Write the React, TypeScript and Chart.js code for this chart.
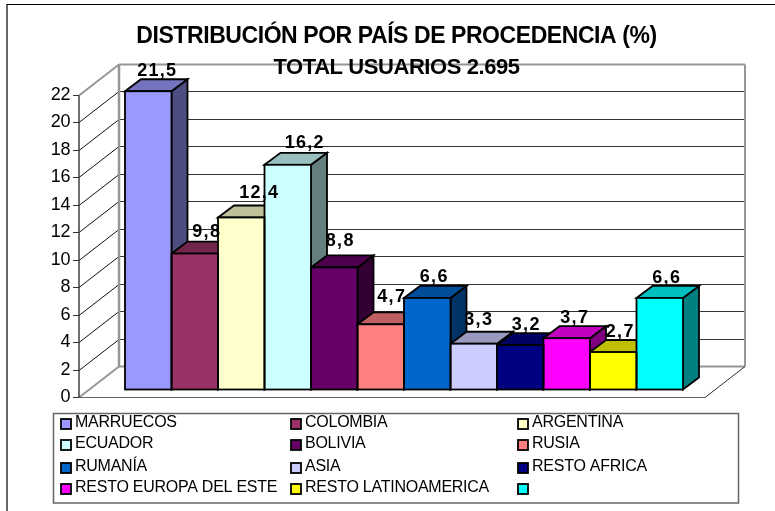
import React, { useEffect, useRef } from "react";
import { Chart, registerables } from "chart.js";

Chart.register(...registerables);

const categories = [
  "MARRUECOS", "COLOMBIA", "ARGENTINA", "ECUADOR", "BOLIVIA", "RUSIA",
  "RUMANÍA", "ASIA", "RESTO AFRICA", "RESTO EUROPA DEL ESTE", "RESTO LATINOAMERICA", "",
];
const values = [21.5, 9.8, 12.4, 16.2, 8.8, 4.7, 6.6, 3.3, 3.2, 3.7, 2.7, 6.6];
const colors = [
  "#9999FF", "#993366", "#FFFFCC", "#CCFFFF", "#660066", "#FF8080",
  "#0066CC", "#CCCCFF", "#000080", "#FF00FF", "#FFFF00", "#00FFFF",
];
const titleText = "DISTRIBUCIÓN POR PAÍS DE PROCEDENCIA (%)";
const subtitleText = "TOTAL USUARIOS 2.695";

// Layout constants (not data)
const DEPTH_X = 16, DEPTH_Y = 12;
const WALL_DX = 40, WALL_DY = 31;
const AXIS_X = 79, FLOOR_RIGHT = 705;
const labelNudgeX = [9, 12, 18, 17, 6, 11, 7, 5, 6, 8, 7, 7];
const labelLift = [15, 17, 19, 17, 21, 22, 16, 19, 15, 15, 15, 15];
const legendCols = [60, 290, 517];
const legendRows = [418, 439, 462, 483];

function shade(hex: string, f: number) {
  const n = parseInt(hex.slice(1), 16);
  const r = Math.round(((n >> 16) & 255) * f);
  const g = Math.round(((n >> 8) & 255) * f);
  const b = Math.round((n & 255) * f);
  return `rgb(${r},${g},${b})`;
}

function poly(ctx: CanvasRenderingContext2D, pts: number[][], fill: string) {
  ctx.beginPath();
  pts.forEach((p, i) => (i ? ctx.lineTo(p[0], p[1]) : ctx.moveTo(p[0], p[1])));
  ctx.closePath();
  ctx.fillStyle = fill;
  ctx.fill();
  ctx.strokeStyle = "#000";
  ctx.lineWidth = 1.8;
  ctx.lineJoin = "miter";
  ctx.stroke();
}

function line(ctx: CanvasRenderingContext2D, x1: number, y1: number, x2: number, y2: number, color: string, w: number) {
  ctx.beginPath();
  ctx.moveTo(x1, y1);
  ctx.lineTo(x2, y2);
  ctx.strokeStyle = color;
  ctx.lineWidth = w;
  ctx.stroke();
}

const scene3d = {
  id: "scene3d",
  beforeDraw(chart: any) {
    const ctx: CanvasRenderingContext2D = chart.ctx;
    ctx.save();
    ctx.fillStyle = "#fff";
    ctx.fillRect(0, 0, chart.width, chart.height);
    // frame
    line(ctx, 7, 4.5, chart.width, 4.5, "#000", 1.2);
    line(ctx, 7, 4, 7, chart.height, "#000", 1.2);

    const axis = chart.scales.y;
    const BACK_RIGHT = FLOOR_RIGHT + WALL_DX;
    const backX = AXIS_X + WALL_DX;
    const ticks = axis.ticks.map((t: any) => t.value);
    const maxV = Math.max(...ticks);
    // back wall grid and side wall diagonals
    ticks.forEach((v: number) => {
      const y = Math.round(axis.getPixelForValue(v)) + 0.5;
      if (v !== 0 && v !== maxV) {
        line(ctx, backX, y - WALL_DY, BACK_RIGHT, y - WALL_DY, "#333", 1);
        line(ctx, AXIS_X, y, backX, y - WALL_DY, "#111", 1);
      }
      line(ctx, AXIS_X - 6, y, AXIS_X, y, "#333", 1);
    });
    const y0 = Math.round(axis.getPixelForValue(0)) + 0.5;
    const yT = Math.round(axis.getPixelForValue(maxV)) + 0.5;
    const g = "#969696";
    line(ctx, AXIS_X, yT, backX, yT - WALL_DY, g, 2);
    line(ctx, backX, yT - WALL_DY, BACK_RIGHT, yT - WALL_DY, g, 2);
    line(ctx, backX, yT - WALL_DY, backX, y0 - WALL_DY, g, 2.5);
    line(ctx, BACK_RIGHT, yT - WALL_DY, BACK_RIGHT, y0 - WALL_DY, g, 2);
    line(ctx, backX, y0 - WALL_DY, BACK_RIGHT, y0 - WALL_DY, g, 2);
    line(ctx, AXIS_X, y0, backX, y0 - WALL_DY, g, 2);
    line(ctx, AXIS_X, y0, FLOOR_RIGHT, y0, "#666", 1.2);
    line(ctx, FLOOR_RIGHT, y0, BACK_RIGHT, y0 - WALL_DY, "#333", 1);
    line(ctx, AXIS_X, yT, AXIS_X, y0, "#333", 1.4);

    // legend box
    ctx.fillStyle = "#fff";
    ctx.strokeStyle = "#666";
    ctx.lineWidth = 1.5;
    ctx.strokeRect(53.5, 413.5, 685, 89.5);
    ctx.font = "16px 'Liberation Sans'";
    (ctx as any).letterSpacing = "-0.25px";
    ctx.textBaseline = "middle";
    ctx.textAlign = "left";
    (chart.data.labels as string[]).forEach((label, i) => {
      const x = legendCols[i % 3];
      const y = legendRows[Math.floor(i / 3)];
      ctx.fillStyle = chart.data.datasets[0].backgroundColor[i];
      ctx.strokeStyle = "#000";
      ctx.lineWidth = 1.8;
      ctx.fillRect(x + 1, y + 1, 10, 10);
      ctx.strokeRect(x + 1, y + 1, 10, 10);
      ctx.fillStyle = "#000";
      ctx.fillText(label, x + 15, y + 4.5);
    });
    ctx.restore();
    // title letter spacing: the title boxes are drawn right after this hook
    (ctx as any).letterSpacing = "-0.43px";
  },
  beforeDatasetsDraw(chart: any) {
    const ctx: CanvasRenderingContext2D = chart.ctx;
    (ctx as any).letterSpacing = "0px";
    const meta = chart.getDatasetMeta(0);
    ctx.save();
    meta.data.forEach((bar: any, i: number) => {
      const c = colors[i];
      const half = bar.width / 2;
      const r = bar.x + half;
      const l = bar.x - half;
      poly(ctx, [[r, bar.y], [r + DEPTH_X, bar.y - DEPTH_Y], [r + DEPTH_X, bar.base - DEPTH_Y], [r, bar.base]], shade(c, 0.5));
      poly(ctx, [[l, bar.y], [l + DEPTH_X, bar.y - DEPTH_Y], [r + DEPTH_X, bar.y - DEPTH_Y], [r, bar.y]], shade(c, 0.75));
    });
    ctx.restore();
  },
  afterDatasetsDraw(chart: any) {
    const ctx: CanvasRenderingContext2D = chart.ctx;
    const meta = chart.getDatasetMeta(0);
    ctx.save();
    // outlines of the library's bar fronts
    ctx.strokeStyle = "#000";
    ctx.lineWidth = 1.8;
    meta.data.forEach((bar: any) => {
      ctx.strokeRect(bar.x - bar.width / 2, bar.y, bar.width, bar.base - bar.y);
    });
    (ctx as any).letterSpacing = "1.3px";
    ctx.font = "bold 18px 'Liberation Sans'";
    ctx.fillStyle = "#000";
    ctx.textAlign = "center";
    ctx.textBaseline = "alphabetic";
    meta.data.forEach((bar: any, i: number) => {
      const text = String(values[i]).replace(".", ",");
      ctx.fillText(text, bar.x + labelNudgeX[i], bar.y - labelLift[i]);
    });
    ctx.restore();
    (ctx as any).letterSpacing = "0px";
  },
};

export default function App() {
  const ref = useRef<HTMLCanvasElement>(null);
  useEffect(() => {
    const chart = new Chart(ref.current as HTMLCanvasElement, {
      type: "bar",
      data: {
        labels: categories,
        datasets: [
          {
            data: values,
            backgroundColor: colors,
            borderWidth: 0,
            categoryPercentage: 1,
            barPercentage: 1,
            yAxisID: "yBars",
            clip: false,
          } as any,
        ],
      },
      options: {
        animation: false,
        responsive: false,
        layout: { padding: { left: 18, right: 0, top: 0, bottom: 114 } },
        plugins: {
          legend: { display: false },
          tooltip: { enabled: false },
          title: {
            display: true,
            text: titleText,
            color: "#000",
            font: { family: "'Liberation Sans'", size: 23, weight: "bold", lineHeight: 1.2 },
            padding: { top: 22.4, bottom: 0 },
          },
          subtitle: {
            display: true,
            text: subtitleText,
            color: "#000",
            font: { family: "'Liberation Sans'", size: 22, weight: "bold", lineHeight: 1.2 },
            padding: { top: 4.3, bottom: 14.3 },
          },
        },
        scales: {
          x: { display: false, grid: { display: false } },
          y: {
            position: "left",
            z: 1,
            min: 0,
            max: 22,
            afterFit: (s: any) => { s.width = 107; },
            grid: { display: false, drawTicks: false },
            border: { display: false },
            ticks: {
              stepSize: 2,
              padding: 55,
              color: "#000",
              font: { family: "'Liberation Sans'", size: 18 },
              autoSkip: false,
            },
          },
          yBars: {
            position: "right",
            min: -0.54,
            max: 21.23,
            afterFit: (s: any) => { s.width = 92; },
            grid: { display: false, drawTicks: false },
            border: { display: false },
            ticks: { display: false },
          },
        },
      } as any,
      plugins: [scene3d],
    });
    return () => chart.destroy();
  }, []);
  return (
    <div style={{ position: "fixed", left: 0, top: 0, width: 775, height: 511, background: "#fff" }}>
      <canvas ref={ref} width={775} height={511} style={{ display: "block" }} />
    </div>
  );
}
